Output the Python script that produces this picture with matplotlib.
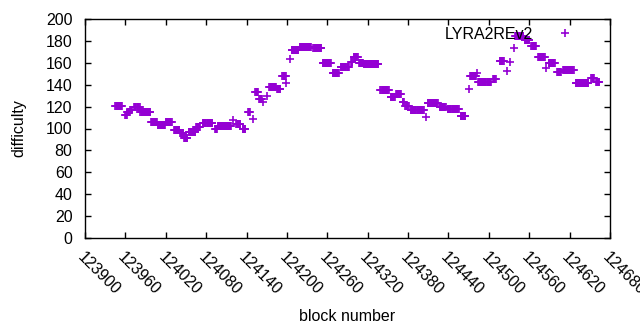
import numpy as np
import matplotlib
matplotlib.use("Agg")
import matplotlib.pyplot as plt

plt.rcParams['font.family'] = ['Liberation Sans', 'DejaVu Sans']

# Runs of constant difficulty: first block, last block, difficulty
run_start = [123945, 123960, 123963, 123967, 123973, 123982, 123998, 124008, 124020, 124032,
             124041, 124047, 124054, 124065, 124075, 124093, 124097, 124120, 124125, 124134,
             124142, 124150, 124153, 124159, 124164, 124170, 124174, 124185, 124193, 124199,
             124204, 124207, 124219, 124239, 124253, 124268, 124280, 124295, 124299, 124307,
             124314, 124339, 124354, 124362, 124372, 124376, 124384, 124406, 124409, 124427,
             124439, 124458, 124470, 124472, 124483, 124484, 124506, 124516, 124527, 124531,
             124537, 124539, 124553, 124563, 124573, 124585, 124589, 124601, 124610, 124629,
             124652, 124659]
run_end = [123955, 123962, 123966, 123970, 123981, 123997, 124007, 124019, 124029, 124040,
           124046, 124052, 124064, 124071, 124089, 124096, 124117, 124120, 124131, 124138,
           124145, 124150, 124157, 124163, 124164, 124170, 124184, 124190, 124198, 124199,
           124204, 124217, 124236, 124251, 124265, 124277, 124292, 124297, 124305, 124313,
           124336, 124351, 124360, 124369, 124374, 124381, 124403, 124406, 124424, 124436,
           124455, 124465, 124470, 124481, 124483, 124503, 124510, 124522, 124527, 124531,
           124537, 124551, 124560, 124570, 124583, 124585, 124598, 124607, 124626, 124648,
           124656, 124664]
run_value = [121, 112, 115, 117, 120, 115, 106, 103, 106, 99,
             96, 91.5, 97, 101, 105, 99.5, 102, 108, 104, 100,
             115, 109, 133, 127, 124, 130, 138, 136, 148, 142,
             163.5, 172, 174.5, 173.5, 160, 151, 156, 161, 165, 160,
             159, 135, 129, 131.5, 124, 121, 117, 110.5, 123, 120,
             118, 111, 136, 148, 151, 142.5, 145, 162, 152.5, 161,
             173.5, 184.5, 181, 175, 165, 155, 160, 151.5, 153.5, 141.5,
             146, 142.5]

x_ticks = list(range(123900, 124681, 60))
y_ticks = list(range(0, 201, 20))

blocks = []
diffs = []
for s, e, v in zip(run_start, run_end, run_value):
    for b in range(s, e + 1):
        blocks.append(b)
        diffs.append(v)

FS = 11.5
fig = plt.figure(figsize=(6.4, 3.3), dpi=100)
ax = fig.add_axes([85/640, 1 - 238/330, (610-85)/640, (238-19)/330])

color = '#9400d3'
ax.plot(blocks, diffs, linestyle='none', marker='+', markersize=6,
        markeredgewidth=1.2, color=color, label='LYRA2REv2')

ax.set_xlim(123900, 124680)
ax.set_ylim(0, 200)
ax.set_xticks(x_ticks)
ax.set_yticks(y_ticks)
ax.set_xticklabels([str(t) for t in x_ticks], rotation=-45, ha='left', va='top',
                   rotation_mode='anchor', fontsize=FS)
ax.set_yticklabels([str(t) for t in y_ticks], fontsize=FS)
ax.tick_params(direction='in', top=True, right=True, length=4, width=1)
ax.tick_params(axis='y', pad=9)
ax.tick_params(axis='x', pad=8)
for sp in ax.spines.values():
    sp.set_linewidth(1)

ax.set_xlabel('block number', fontsize=FS, labelpad=8)
ax.set_ylabel('difficulty', fontsize=FS, labelpad=14)

leg = ax.legend(loc='upper right', bbox_to_anchor=(0.966, 1.015), frameon=False,
                markerfirst=False, fontsize=FS, handlelength=2.0, handletextpad=1.0,
                borderaxespad=0.3)

fig.savefig('out.png', dpi=100)
